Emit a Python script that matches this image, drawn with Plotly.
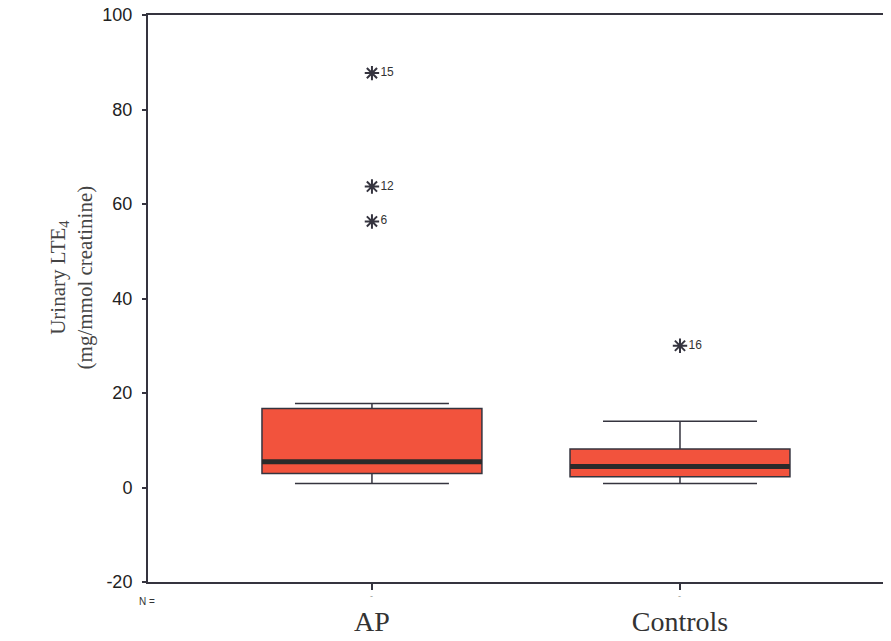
import plotly.graph_objects as go

groups = ["AP", "Controls"]
n_labels = ["-", "-"]
q1 = [2.97, 2.27]
median = [5.45, 4.45]
q3 = [16.7, 8.14]
lower = [0.85, 0.85]
upper = [17.8, 14.0]
outlier_group = [0, 0, 0, 1]
outlier_values = [87.7, 63.7, 56.3, 30.0]
outlier_labels = ["15", "12", "6", "16"]
y_ticks = [-20, 0, 20, 40, 60, 80, 100]
y_tick_text = ["-20", "0", "20", "40", "60", "80", "100"]

box_width = 0.714
fill = "#F2533D"
dark = "#35343f"

fig = go.Figure()
pos = list(range(len(groups)))
fig.add_trace(go.Box(
    x=pos, q1=q1, median=median, q3=q3, lowerfence=lower, upperfence=upper,
    width=box_width, whiskerwidth=0.7, fillcolor=fill,
    line=dict(color=dark, width=1.5), boxpoints=False, showlegend=False,
))
for i, p in enumerate(pos):
    fig.add_trace(go.Scatter(
        x=[p - box_width / 2, p + box_width / 2], y=[median[i], median[i]],
        mode="lines", line=dict(color="#2a2a2a", width=5), showlegend=False,
        hoverinfo="skip"))
fig.add_trace(go.Scatter(
    x=[pos[g] for g in outlier_group], y=outlier_values, mode="markers+text",
    marker=dict(symbol="asterisk-open", size=12, color=dark, line=dict(color=dark, width=2)),
    text=outlier_labels, textposition="middle right",
    textfont=dict(family="Liberation Sans, Arial", size=12, color="#333"),
    showlegend=False))

fig.add_annotation(
    text="Urinary LTE<sub>4</sub><br>(mg/mmol creatinine)", textangle=-90,
    xref="paper", yref="paper", x=-0.140, y=0.538, showarrow=False,
    font=dict(family="Liberation Serif, Times New Roman", size=21, color="#444"))
fig.add_annotation(
    text="N =", xref="paper", yref="paper", x=-0.001, y=-0.035, showarrow=False,
    xanchor="center", yanchor="middle",
    font=dict(family="Liberation Sans, Arial", size=10, color="#333"))
for i, p in enumerate(pos):
    fig.add_annotation(
        text=n_labels[i], xref="x", yref="paper", x=p, y=-0.024, showarrow=False,
        yanchor="middle", font=dict(family="Liberation Sans, Arial", size=9, color="#999"))

fig.update_layout(
    width=891, height=641, margin=dict(l=140, r=8, t=7, b=67),
    plot_bgcolor="white", paper_bgcolor="white",
    xaxis=dict(range=[-0.727, 1.685], tickvals=pos, ticktext=groups,
               showline=True, linecolor=dark, linewidth=2, mirror=True,
               ticks="outside", ticklen=6, tickwidth=2, tickcolor=dark,
               showgrid=False, zeroline=False, ticklabelstandoff=7, automargin=False,
               tickfont=dict(family="Liberation Serif, Times New Roman", size=28, color="#333")),
    yaxis=dict(range=[-20, 100], tickvals=y_ticks, ticktext=y_tick_text,
               showline=True, linecolor=dark, linewidth=2, automargin=False,
               ticks="outside", ticklen=4, tickwidth=2, tickcolor=dark,
               showgrid=False, zeroline=False, ticklabelstandoff=6,
               ticklabeloverflow="allow",
               tickfont=dict(family="Liberation Sans, Arial", size=18, color="#222")),
)
fig.write_html("out.html")
